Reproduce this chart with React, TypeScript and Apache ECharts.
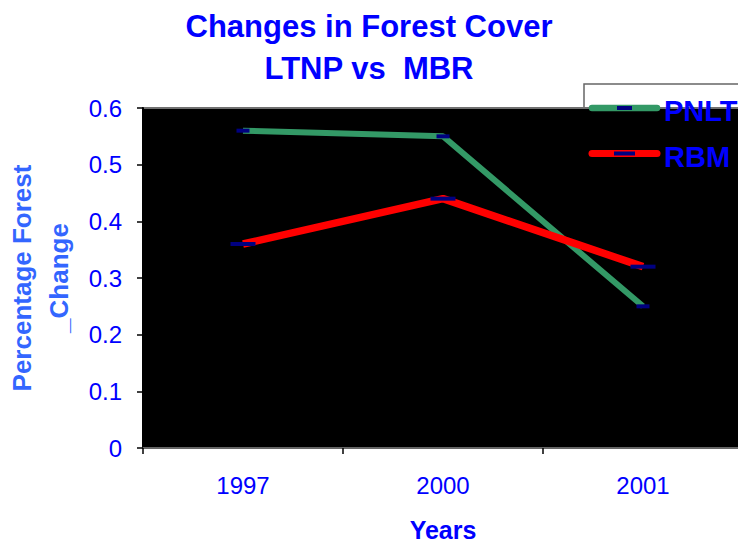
import React, { useEffect, useRef } from "react";
import * as echarts from "echarts";

const categories = ["1997", "2000", "2001"];
const pnltValues = [0.56, 0.55, 0.25];
const rbmValues = [0.36, 0.44, 0.32];
const seriesNames = ["PNLT", "RBM"];
const yTicks = { min: 0, max: 0.6, interval: 0.1 };

const FONT = "'Liberation Sans', Arial, sans-serif";
const GREEN = "#339966";
const RED = "#FF0000";
const NAVY = "#000080";
const BLUE = "#0000FF";

export default function App() {
  const ref = useRef<HTMLDivElement>(null);
  useEffect(() => {
    document.body.style.margin = "0";
    const chart = echarts.init(ref.current!, null, { renderer: "svg" });
    chart.setOption({
      animation: false,
      backgroundColor: "#FFFFFF",
      title: {
        text: "Changes in Forest Cover\nLTNP vs  MBR",
        left: "center",
        top: 5,
        padding: [0, 0, 0, 10],
        textStyle: {
          fontFamily: FONT,
          fontWeight: "bold",
          fontSize: 31,
          lineHeight: 42,
          color: BLUE,
        },
      },
      grid: {
        left: 143,
        top: 108,
        width: 600,
        height: 340,
        show: true,
        backgroundColor: "#000000",
        borderColor: "#707070",
        borderWidth: 2,
        outerBoundsMode: "none",
        containLabel: false,
        z: 0,
      },
      xAxis: {
        type: "category",
        data: categories,
        boundaryGap: true,
        name: "Years",
        nameLocation: "middle",
        nameGap: 69,
        nameTextStyle: {
          fontFamily: FONT,
          fontWeight: "bold",
          fontSize: 25,
          lineHeight: 25,
          color: BLUE,
        },
        axisLine: { show: true, lineStyle: { color: "#666666", width: 2 } },
        axisTick: { show: true, length: 6, lineStyle: { color: "#000000", width: 1.5 } },
        axisLabel: {
          margin: 25,
          fontFamily: FONT,
          fontSize: 24,
          lineHeight: 24,
          color: BLUE,
        },
        splitLine: { show: false },
      },
      yAxis: {
        type: "value",
        min: yTicks.min,
        max: yTicks.max,
        interval: yTicks.interval,
        name: "Percentage Forest\n_Change",
        nameLocation: "middle",
        nameRotate: 90,
        nameGap: 64,
        nameTextStyle: {
          fontFamily: FONT,
          fontWeight: "bold",
          fontSize: 26,
          lineHeight: 37,
          color: "#3366FF",
          align: "center",
        },
        axisLine: { show: true, lineStyle: { color: "#000000", width: 2 } },
        axisTick: { show: true, length: 6, lineStyle: { color: "#000000", width: 1.5 } },
        axisLabel: {
          margin: 21,
          fontFamily: FONT,
          fontSize: 24,
          color: BLUE,
        },
        splitLine: { show: false },
      },
      series: [
        {
          name: seriesNames[0],
          type: "line",
          data: pnltValues,
          symbol: "rect",
          symbolSize: [13, 4],
          lineStyle: { color: GREEN, width: 6 },
          itemStyle: { color: NAVY, borderWidth: 0 },
          z: 3,
        },
        {
          name: seriesNames[1],
          type: "line",
          data: rbmValues,
          symbol: "rect",
          symbolSize: [25, 4],
          lineStyle: { color: RED, width: 7.5 },
          itemStyle: { color: NAVY, borderWidth: 0 },
          z: 4,
        },
      ],
      graphic: [
        {
          type: "rect",
          z: -1,
          shape: { x: 584, y: 84, width: 220, height: 120 },
          style: { fill: "#FFFFFF", stroke: "#666666", lineWidth: 1.5 },
        },
        {
          type: "line",
          z: 10,
          shape: { x1: 592, y1: 108, x2: 657, y2: 108 },
          style: { stroke: GREEN, lineWidth: 6.5, lineCap: "round" },
        },
        {
          type: "rect",
          z: 11,
          shape: { x: 617, y: 106, width: 15, height: 4 },
          style: { fill: NAVY },
        },
        {
          type: "text",
          z: 11,
          x: 664,
          y: 111,
          style: {
            text: seriesNames[0],
            fontFamily: FONT,
            fontWeight: "bold",
            fontSize: 29,
            fill: BLUE,
            verticalAlign: "middle",
            align: "left",
          },
        },
        {
          type: "line",
          z: 10,
          shape: { x1: 592, y1: 153.5, x2: 657, y2: 153.5 },
          style: { stroke: RED, lineWidth: 7, lineCap: "round" },
        },
        {
          type: "rect",
          z: 11,
          shape: { x: 614, y: 151.5, width: 21, height: 4 },
          style: { fill: NAVY },
        },
        {
          type: "text",
          z: 11,
          x: 664,
          y: 157,
          style: {
            text: seriesNames[1],
            fontFamily: FONT,
            fontWeight: "bold",
            fontSize: 29,
            fill: BLUE,
            verticalAlign: "middle",
            align: "left",
          },
        },
      ],
    });
    return () => chart.dispose();
  }, []);
  return <div ref={ref} style={{ width: 738, height: 544 }} />;
}
